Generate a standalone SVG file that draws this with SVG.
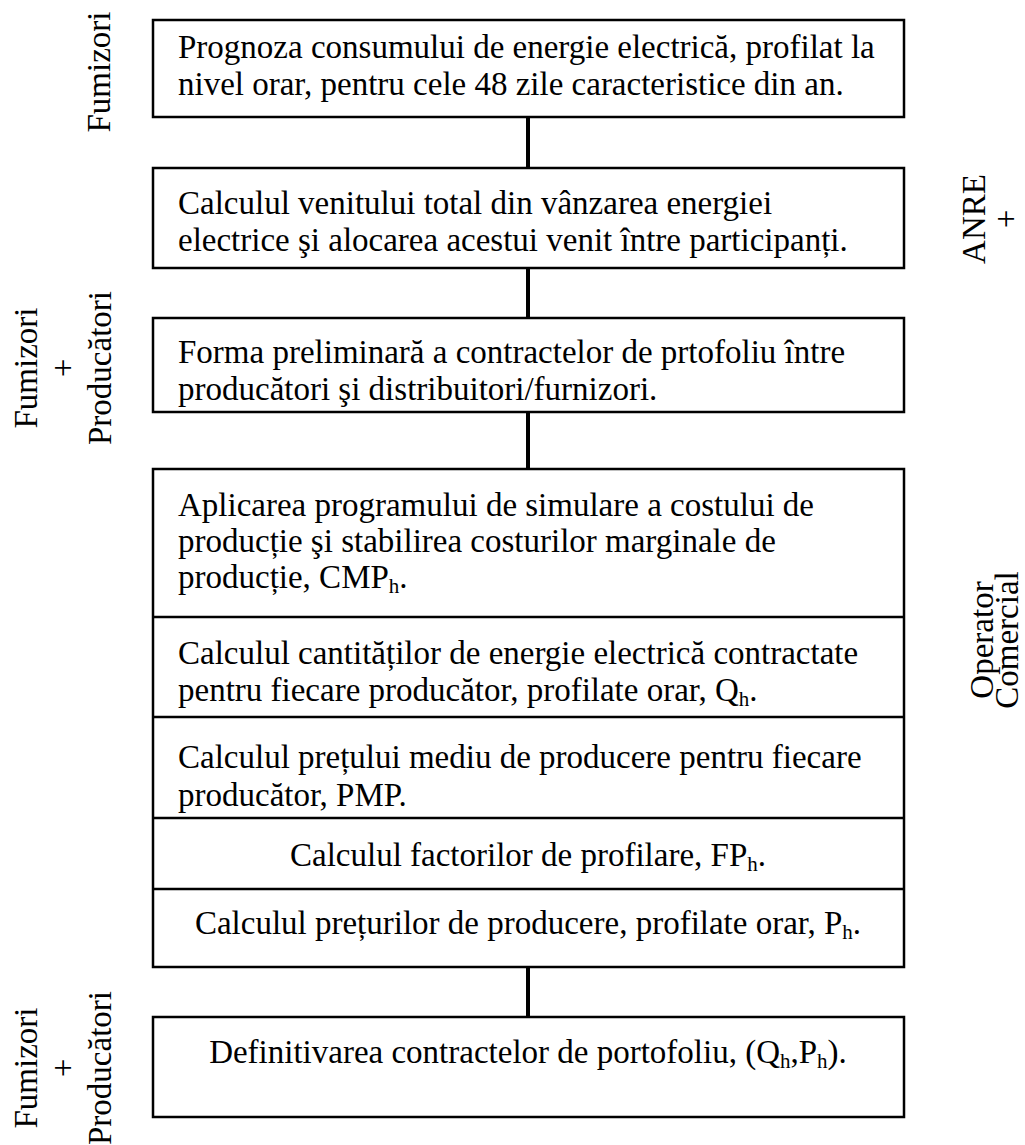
<svg xmlns="http://www.w3.org/2000/svg" width="1025" height="1145" viewBox="0 0 1025 1145">
  <style>
    .box { fill: #fff; stroke: #000; stroke-width: 2.5; }
    .div { stroke: #000; stroke-width: 2.5; fill: none; }
    .link { stroke: #000; stroke-width: 4; fill: none; }
    text { font-family: "Liberation Serif", "Times New Roman", serif; font-size: 33px; fill: #000; }
    .mid { text-anchor: middle; }
    .sub { font-size: 21px; }
  </style>
  <rect width="1025" height="1145" fill="#fff"/>

  <!-- connectors between stages -->
  <g id="connectors">
    <line class="link" x1="528" y1="117" x2="528" y2="168"/>
    <line class="link" x1="528" y1="268" x2="528" y2="318"/>
    <line class="link" x1="528" y1="412" x2="528" y2="469"/>
    <line class="link" x1="528" y1="967" x2="528" y2="1017"/>
  </g>

  <g id="forecast">
    <rect class="box" x="153" y="20" width="751" height="97"/>
    <text x="178" y="58">Prognoza consumului de energie electrică, profilat la</text>
    <text x="178" y="95">nivel orar, pentru cele 48 zile caracteristice din an.</text>
  </g>

  <g id="revenue">
    <rect class="box" x="153" y="168" width="751" height="100"/>
    <text x="178" y="214">Calculul venitului total din vânzarea energiei</text>
    <text x="178" y="251">electrice şi alocarea acestui venit între participanți.</text>
  </g>

  <g id="preliminary">
    <rect class="box" x="153" y="318" width="751" height="94"/>
    <text x="178" y="363">Forma preliminară a contractelor de prtofoliu între</text>
    <text x="178" y="400">producători şi distribuitori/furnizori.</text>
  </g>

  <g id="simulation">
    <rect class="box" x="153" y="469" width="751" height="498"/>
    <line class="div" x1="153" y1="617" x2="904" y2="617"/>
    <line class="div" x1="153" y1="717" x2="904" y2="717"/>
    <line class="div" x1="153" y1="818" x2="904" y2="818"/>
    <line class="div" x1="153" y1="889" x2="904" y2="889"/>
    <text x="178" y="516">Aplicarea programului de simulare a costului de</text>
    <text x="178" y="552">producție şi stabilirea costurilor marginale de</text>
    <text x="178" y="588">producție, CMP<tspan class="sub" dy="5">h</tspan><tspan dy="-5">.</tspan></text>
    <text x="178" y="664">Calculul cantităților de energie electrică contractate</text>
    <text x="178" y="701">pentru fiecare producător, profilate orar, Q<tspan class="sub" dy="5">h</tspan><tspan dy="-5">.</tspan></text>
    <text x="178" y="768">Calculul prețului mediu de producere pentru fiecare</text>
    <text x="178" y="806">producător, PMP.</text>
    <text class="mid" x="528" y="866">Calculul factorilor de profilare, FP<tspan class="sub" dy="5">h</tspan><tspan dy="-5">.</tspan></text>
    <text class="mid" x="528" y="934">Calculul prețurilor de producere, profilate orar, P<tspan class="sub" dy="5">h</tspan><tspan dy="-5">.</tspan></text>
  </g>

  <g id="final">
    <rect class="box" x="153" y="1017" width="751" height="100"/>
    <text class="mid" x="528" y="1063">Definitivarea contractelor de portofoliu, (Q<tspan class="sub" dy="5">h</tspan><tspan dy="-5">,P</tspan><tspan class="sub" dy="5">h</tspan><tspan dy="-5">).</tspan></text>
  </g>

  <!-- actors responsible for each stage -->
  <g id="actor-suppliers">
    <text class="mid" transform="translate(110 72) rotate(-90)">Fumizori</text>
  </g>
  <g id="actor-suppliers-producers">
    <g transform="translate(37 368) rotate(-90)">
      <text class="mid" x="0" y="0">Fumizori</text>
      <text class="mid" x="0" y="37">+</text>
      <text class="mid" x="0" y="74">Producători</text>
    </g>
  </g>
  <g id="actor-anre">
    <g transform="translate(985 219) rotate(-90)">
      <text class="mid" x="0" y="0">ANRE</text>
      <text class="mid" x="0" y="32">+</text>
    </g>
  </g>
  <g id="actor-operator">
    <g transform="translate(993 640) rotate(-90)">
      <text class="mid" x="0" y="0">Operator</text>
      <text class="mid" x="0" y="25">Comercial</text>
    </g>
  </g>
  <g id="actor-final">
    <g transform="translate(37 1068) rotate(-90)">
      <text class="mid" x="0" y="0">Fumizori</text>
      <text class="mid" x="0" y="37">+</text>
      <text class="mid" x="0" y="74">Producători</text>
    </g>
  </g>
</svg>
